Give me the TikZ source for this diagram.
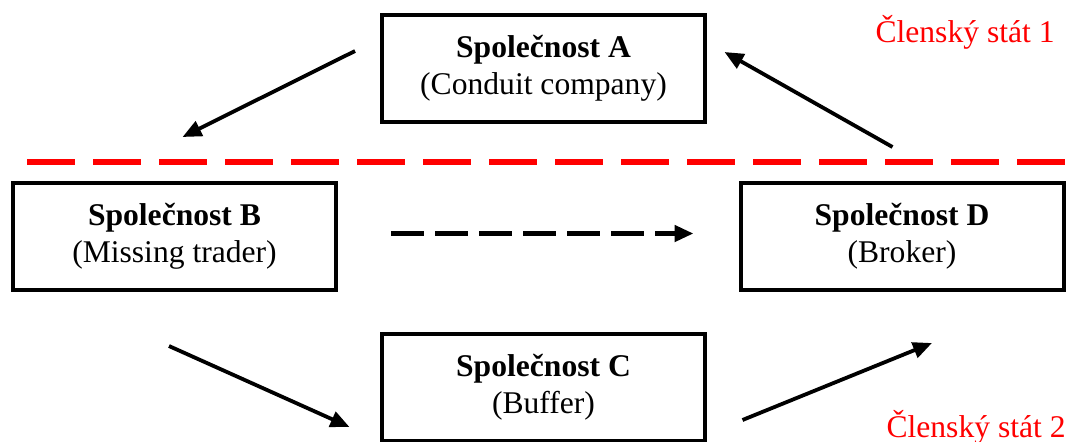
\documentclass[tikz,border=0pt]{standalone}
\usepackage{fontspec}
\setmainfont{Liberation Serif}
\usetikzlibrary{arrows.meta}
\definecolor{stateline}{HTML}{FF0000}

\begin{document}
\begin{tikzpicture}[
  x=0.5pt, y=-0.5pt,
  font=\fontsize{15.8}{18.5}\selectfont,
  firmbox/.style={rectangle, draw=black, line width=2pt, minimum width=161.5pt, minimum height=53.5pt, align=center},
  arrow/.style={-{Triangle[length=9.5pt,width=8pt]}, line width=1.9pt},
  dasharrow/.style={arrow, line width=2.3pt, dash pattern=on 16.5pt off 5.5pt},
  border/.style={stateline, line width=3pt, dash pattern=on 24pt off 9pt},
  statelabel/.style={text=stateline, anchor=base east, inner sep=0pt}
]
\useasboundingbox (0,0) rectangle (1070,441);

\node[firmbox] (A) at (543.5,68.5) {\textbf{Společnost A}\\(Conduit company)};
\node[firmbox] (B) at (174.5,236) {\textbf{Společnost B}\\(Missing trader)};
\node[firmbox] (C) at (543.5,387.5) {\textbf{Společnost C}\\(Buffer)};
\node[firmbox] (D) at (902,236) {\textbf{Společnost D}\\(Broker)};

\node[statelabel] (state1) at (1055,42) {Členský stát 1};
\node[statelabel] (state2) at (1066,437) {Členský stát 2};

\coordinate (borderL) at (27,161.7);
\coordinate (borderR) at (1065,161.7);
\draw[border] (borderL) -- (borderR);

\coordinate (ab1) at (355,51);
\coordinate (ab2) at (182.5,137);
\coordinate (da1) at (892.5,147);
\coordinate (da2) at (724.5,52);
\coordinate (bc1) at (169,346);
\coordinate (bc2) at (349.5,427);
\coordinate (cd1) at (742.5,420);
\coordinate (cd2) at (932,343);
\coordinate (bd1) at (391,233.5);
\coordinate (bd2) at (693.5,233.5);

\draw[arrow] (ab1) -- (ab2);
\draw[arrow] (da1) -- (da2);
\draw[arrow] (bc1) -- (bc2);
\draw[arrow] (cd1) -- (cd2);
\draw[dasharrow] (bd1) -- (bd2);
\end{tikzpicture}
\end{document}
